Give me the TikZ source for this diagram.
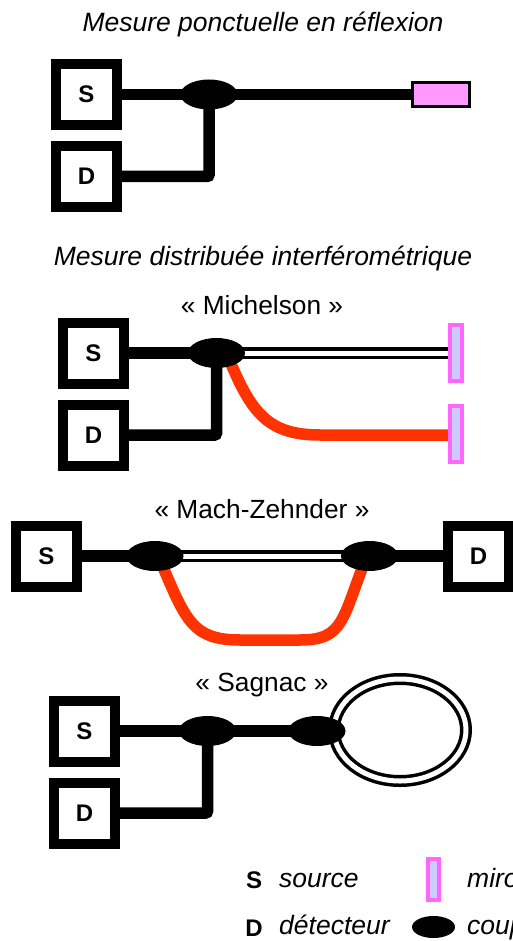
\documentclass[tikz,border=0pt]{standalone}
\usepackage{fontspec}
\setmainfont{Liberation Sans}
\usetikzlibrary{shapes.geometric,backgrounds}
\definecolor{fibrered}{HTML}{FF3300}
\definecolor{mirrorpink}{HTML}{FF99FF}
\definecolor{mirrorrim}{HTML}{FF66FF}
\definecolor{mirrorblue}{HTML}{CCCCFF}
\tikzset{
  boxSD/.style={draw,line width=10pt,minimum size=61pt,inner sep=0pt,font=\fontsize{24}{24}\selectfont\bfseries},
  coupler/.style={ellipse,fill=black,minimum width=57pt,minimum height=30pt,inner sep=0pt},
  mirrorP/.style={draw,line width=3pt,fill=mirrorpink,minimum width=57pt,minimum height=24pt,inner sep=0pt},
  mirrorB/.style={draw=mirrorrim,line width=4pt,fill=mirrorblue,minimum width=12pt,minimum height=56pt,inner sep=0pt},
  fibre/.style={line width=11.5pt},
  fibrearm/.style={line width=11.5pt,color=fibrered},
  headline/.style={font=\fontsize{26.5}{26.5}\selectfont\itshape},
  setup/.style={font=\fontsize{26.3}{26.3}\selectfont},
  legendtext/.style={anchor=base west,inner sep=0pt,font=\fontsize{26.5}{26.5}\selectfont\itshape},
  legendmark/.style={font=\fontsize{24}{24}\selectfont\bfseries}
}
\newcommand{\doublefibre}[2]{
\draw[line width=12pt] (#1) -- (#2);
\draw[line width=5pt,white] (#1) -- (#2);
}

\begin{document}
\begin{tikzpicture}[x=1pt,y=-1pt]
\useasboundingbox (0,0) rectangle (512,941);

% reflexion
\node[headline] (titleA) at (263,24) {Mesure ponctuelle en réflexion};
\node[boxSD] (rS) at (86.5,94.5) {S};
\node[boxSD] (rD) at (86.5,176.5) {D};
\node[coupler] (rC) at (209,94.5) {};
\node[mirrorP] (rM) at (441,94.5) {};
\begin{scope}[on background layer]
\draw[fibre] (rS.east) -- (rC.center);
\draw[fibre] (rC.center) -- (rM.west);
\draw[fibre,rounded corners=2pt] (rD.east) -| (rC.center);
\end{scope}

\node[headline] (titleB) at (263,258) {Mesure distribuée interférométrique};

% Michelson
\node[setup] (nameM) at (262,305) {« Michelson »};
\node[boxSD] (mS) at (93.5,353) {S};
\node[boxSD] (mD) at (93.5,435) {D};
\node[coupler] (mC) at (216.5,353) {};
\node[mirrorB] (mMa) at (456,353) {};
\node[mirrorB] (mMb) at (456,434) {};
\coordinate (mIn) at (226,352);
\coordinate (mOut) at (320,435);
\begin{scope}[on background layer]
\draw[fibre] (mS.east) -- (mC.center);
\draw[fibre,rounded corners=2pt] (mD.east) -| (mC.center);
\doublefibre{mC.center}{mMa.west}
\draw[fibrearm] (mIn) .. controls (250,410) and (265,435) .. (mOut) -- (mMb.west |- mOut);
\end{scope}

% Mach-Zehnder
\node[setup] (nameZ) at (262,509) {« Mach-Zehnder »};
\node[boxSD] (zS) at (46.5,556) {S};
\node[boxSD] (zD) at (478.5,556) {D};
\node[coupler] (zA) at (155,556) {};
\node[coupler] (zB) at (369.5,556) {};
\coordinate (zIn) at (157,553);
\coordinate (zOut) at (368,553);
\coordinate (zL) at (240,640);
\coordinate (zR) at (300,640);
\begin{scope}[on background layer]
\draw[fibre] (zS.east) -- (zA.center);
\draw[fibre] (zB.center) -- (zD.west);
\doublefibre{zA.center}{zB.center}
\draw[fibrearm] (zIn) .. controls (185,618) and (190,640) .. (zL) -- (zR) .. controls (345,640) and (342,618) .. (zOut);
\end{scope}

% Sagnac
\node[setup] (nameG) at (262,685) {« Sagnac »};
\node[boxSD] (gS) at (84.5,731) {S};
\node[boxSD] (gD) at (84.5,813) {D};
\node[coupler] (gA) at (207.5,731) {};
\draw[line width=12pt] (400,730) ellipse (66 and 51);
\draw[line width=5pt,white] (400,730) ellipse (66 and 51);
\node[coupler] (gB) at (317,731) {};
\begin{scope}[on background layer]
\draw[fibre] (gS.east) -- (gA.center);
\draw[fibre] (gA.center) -- (gB.center);
\draw[fibre,rounded corners=2pt] (gD.east) -| (gA.center);
\end{scope}

% legend
\node[legendmark] (lS) at (254,880) {S};
\node[legendtext] (lsource) at (279,887) {source};
\node[legendmark] (lD) at (254,928) {D};
\node[legendtext] (ldetect) at (279,934) {détecteur};
\node[mirrorB,minimum width=11pt,minimum height=41pt] (lM) at (433.5,879.5) {};
\node[legendtext] (lmirror) at (467,887) {miroir};
\node[coupler,minimum width=43pt,minimum height=22pt] (lC) at (433.5,927) {};
\node[legendtext] (lcoupler) at (467,934) {coupleur};
\end{tikzpicture}
\end{document}
